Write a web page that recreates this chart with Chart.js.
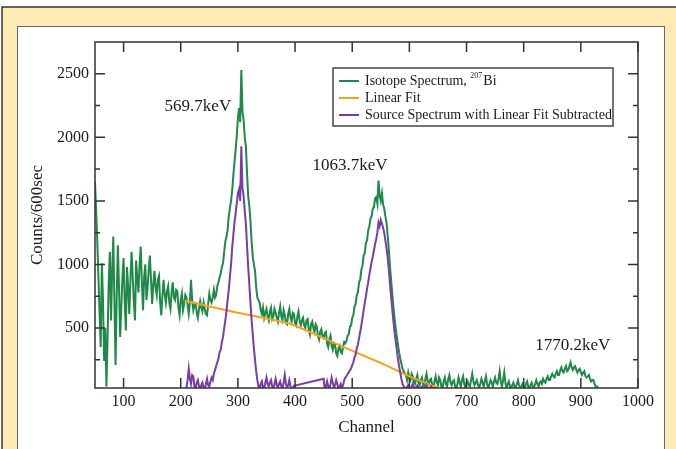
<!DOCTYPE html>
<html>
<head>
<meta charset="utf-8">
<script src="https://cdn.jsdelivr.net/npm/chart.js@4.4.1/dist/chart.umd.min.js"></script>
<style>
  html, body { margin: 0; padding: 0; background: #fff; }
  canvas { display: block; }
</style>
</head>
<body>
<canvas id="spectrumChart" width="676" height="449"></canvas>
<script>
// counts per 600 s, one value every 2 channels starting at channel 50
const isotopeStart = 50
const isotopeStep = 2
const isotopeCounts = [
    1650, 1420, 1180, 900, 620, 350, 1010, 720, 240, 500, 40, 420, 860, 1100, 560, 940, 1220, 700, 210, 760,       // 50-88
    1150, 820, 430, 660, 900, 1050, 700, 480, 980, 820, 610, 880, 1100, 900, 700, 560, 1030, 890, 780, 1000,     // 90-128
    1140, 860, 640, 900, 1000, 720, 820, 960, 1070, 880, 690, 840, 950, 820, 760, 880, 910, 700, 600, 760,       // 130-168
    880, 760, 700, 790, 830, 700, 650, 780, 860, 740, 720, 800, 790, 660, 600, 720, 770, 640, 690, 760,          // 170-208
    740, 680, 610, 700, 880, 720, 640, 680, 690, 620, 580, 650, 710, 660, 630, 700, 650, 610, 600, 690,          // 210-248
    770, 720, 700, 740, 800, 740, 760, 830, 860, 900, 930, 980, 1010, 1100, 1180, 1220, 1270, 1380, 1440, 1500,  // 250-288
    1580, 1700, 1800, 1900, 2010, 2150, 2230, 2120, 2530, 2200, 2140, 2000, 1930, 1720, 1540, 1460, 1340, 1180, 1060, 1000, // 290-328
    950, 820, 740, 720, 700, 640, 610, 660, 580, 620, 650, 590, 560, 630, 660, 570, 590, 650, 620, 580,          // 330-368
    550, 620, 670, 590, 560, 640, 600, 540, 530, 610, 650, 580, 550, 620, 610, 540, 520, 590, 630, 560,          // 370-408
    520, 560, 580, 520, 500, 560, 570, 490, 450, 530, 550, 500, 470, 530, 510, 440, 410, 470, 490, 430,          // 410-448
    420, 460, 470, 380, 350, 410, 440, 360, 330, 380, 370, 300, 280, 340, 360, 310, 300, 350, 390, 380,          // 450-488
    400, 440, 450, 510, 520, 580, 600, 670, 690, 760, 780, 860, 880, 960, 990, 1070, 1090, 1170, 1190, 1270,     // 490-528
    1300, 1360, 1380, 1440, 1450, 1520, 1530, 1480, 1660, 1540, 1500, 1560, 1470, 1440, 1380, 1330, 1230, 1120, 990, 880, // 530-568
    770, 670, 580, 500, 430, 370, 310, 260, 220, 180, 160, 140, 130, 90, 150, 110, 90, 140, 120, 70,             // 570-608
    60, 100, 130, 70, 50, 90, 110, 60, 40, 100, 140, 80, 60, 90, 100, 50, 30, 80, 120, 70,                       // 610-648
    50, 110, 90, 40, 30, 80, 110, 60, 40, 100, 130, 70, 50, 80, 90, 40, 20, 60, 110, 70,                         // 650-688
    40, 90, 120, 60, 30, 70, 80, 50, 40, 90, 140, 80, 50, 70, 90, 50, 30, 60, 100, 70,                           // 690-728
    40, 80, 120, 60, 30, 60, 90, 70, 40, 80, 110, 70, 60, 100, 160, 80, 40, 90, 150, 70,                         // 730-768
    30, 60, 80, 40, 20, 50, 70, 40, 30, 60, 90, 50, 20, 40, 60, 40, 30, 60, 80, 40,                              // 770-808
    20, 50, 70, 40, 30, 60, 90, 60, 40, 70, 80, 60, 100, 80, 70, 100, 120, 90, 90, 120,                          // 810-848
    140, 120, 110, 140, 160, 130, 130, 170, 190, 160, 150, 180, 200, 160, 170, 200, 230, 190, 170, 190,          // 850-888
    200, 170, 150, 170, 180, 150, 130, 150, 160, 120, 110, 120, 130, 100, 80, 90, 90, 60, 40, 40,                // 890-928
    30                                                                                                           // 930
]

// linear background fit
const fitChannels = [207, 260, 300, 340, 390, 410, 450, 490, 550, 600, 650]
const fitCounts = [715, 660, 620, 585, 535, 500, 420, 340, 225, 120, 28]

// spectrum with fit subtracted, every 2 channels, two runs (gap between 398 and 450)
const subStep = 2
const subStartA = 210
const subCountsA = [
    30, 90, 180, 100, 60, 130, 120, 40, 20, 70, 90, 40, 15, 50, 70, 30, 15, 60, 100, 50,
    40, 80, 110, 90, 140, 170, 200, 230, 260, 310, 330, 390, 430, 500, 560, 630, 720, 800, 900, 1000,
    1130, 1230, 1330, 1400, 1480, 1560, 1590, 1500, 1930, 1600, 1540, 1420, 1320, 1150, 980, 840, 700, 560, 450, 340,
    250, 160, 90, 40, 20, 60, 80, 30, 20, 70, 110, 60, 40, 70, 90, 40, 15, 60, 100, 50,
    30, 60, 80, 40, 20, 70, 130, 60, 30, 50, 90, 40, 20, 30, 45
]
const subStartB = 450
const subCountsB = [
    100, 15, 40, 80, 40, 20, 60, 110, 70, 30, 50, 90, 60, 20, 40, 60, 30, 50, 90, 110,
    120, 140, 150, 170, 180, 210, 230, 270, 290, 340, 370, 420, 470, 520, 580, 640, 700, 750, 810, 860,
    920, 970, 1020, 1060, 1110, 1160, 1200, 1250, 1330, 1300, 1350, 1320, 1290, 1250, 1190, 1130, 1060, 960, 850, 750,
    650, 560, 470, 400, 330, 260, 200, 150, 100, 60, 40, 30, 20, 40, 50, 30, 15, 40, 60, 30,
    20, 40, 50, 30, 15, 30, 40, 20, 10, 30, 50, 30, 20, 30, 40, 20, 10, 20, 30, 20, 15
]

const xTicks = [100, 200, 300, 400, 500, 600, 700, 800, 900, 1000]
const yTicks = [500, 1000, 1500, 2000, 2500]
const yMinorTicks = [250, 750, 1250, 1750, 2250]

const peakLabels = [
    { text: '569.7keV', ch: 230, counts: 2240 },
    { text: '1063.7keV', ch: 496, counts: 1775 },
    { text: '1770.2keV', ch: 886, counts: 366 }
]

const GREEN = '#1f8a48'
const ORANGE = '#f6a21c'
const PURPLE = '#7a3ca6'
const SERIF = '"Liberation Serif", "Times New Roman", serif'

const isotopeData = isotopeCounts.map((v, i) => ({ x: isotopeStart + i * isotopeStep, y: v }))
const fitData = fitChannels.map((c, i) => ({ x: c, y: fitCounts[i] }))
const subData = subCountsA.map((v, i) => ({ x: subStartA + i * subStep, y: v }))
    .concat(subCountsB.map((v, i) => ({ x: subStartB + i * subStep, y: v })))

const framePlugin = {
    id: 'framePlugin',
    beforeDraw(chart) {
        const c = chart.ctx
        c.save()
        c.fillStyle = '#fff'
        c.fillRect(0, 0, 676, 449)
        c.fillStyle = '#fdebb3'
        c.fillRect(2, 7, 700, 460)
        c.strokeStyle = '#333'
        c.lineWidth = 1.5
        c.strokeRect(2, 7, 700, 460)
        c.fillStyle = '#fff'
        c.fillRect(17, 26, 648, 440)
        c.strokeStyle = '#666'
        c.lineWidth = 1
        c.strokeRect(17.5, 26.5, 647, 440)
        c.restore()
    },
    afterDatasetsDraw(chart) {
        const { ctx: c, chartArea: a, scales: { x, y } } = chart
        c.save()
        c.strokeStyle = '#333'
        c.lineWidth = 1.5
        c.strokeRect(a.left, a.top, a.right - a.left, a.bottom - a.top)
        c.beginPath()
        xTicks.forEach(v => {
            const px = x.getPixelForValue(v)
            c.moveTo(px, a.bottom); c.lineTo(px, a.bottom - 10)
            c.moveTo(px, a.top); c.lineTo(px, a.top + 10)
        })
        yTicks.forEach(v => {
            const py = y.getPixelForValue(v)
            c.moveTo(a.left, py); c.lineTo(a.left + 10, py)
            c.moveTo(a.right, py); c.lineTo(a.right - 10, py)
        })
        yMinorTicks.forEach(v => {
            const py = y.getPixelForValue(v)
            c.moveTo(a.left, py); c.lineTo(a.left + 5, py)
            c.moveTo(a.right, py); c.lineTo(a.right - 5, py)
        })
        c.stroke()

        // peak labels
        c.fillStyle = '#1a1a1a'
        c.font = '17px ' + SERIF
        c.textAlign = 'center'
        c.textBaseline = 'middle'
        peakLabels.forEach(p => {
            c.fillText(p.text, x.getPixelForValue(p.ch), y.getPixelForValue(p.counts))
        })

        // legend box
        const bx = 333, by = 68, bw = 280, bh = 58
        c.fillStyle = '#fff'
        c.fillRect(bx, by, bw, bh)
        c.strokeStyle = '#444'
        c.lineWidth = 1.5
        c.strokeRect(bx, by, bw, bh)
        const rowsY = [81, 98, 115]
        c.textAlign = 'left'
        chart.data.datasets.forEach((ds, i) => {
            const ry = rowsY[i]
            c.strokeStyle = ds.borderColor
            c.lineWidth = 2
            c.beginPath()
            c.moveTo(339, ry); c.lineTo(359, ry)
            c.stroke()
            c.fillStyle = '#1a1a1a'
            c.font = '14px ' + SERIF
            if (i === 0) {
                const head = 'Isotope Spectrum, '
                c.fillText(head, 365, ry)
                let tx = 365 + c.measureText(head).width
                c.font = '8px ' + SERIF
                c.fillText('207', tx, ry - 5)
                tx += c.measureText('207').width + 1
                c.font = '14px ' + SERIF
                c.fillText('Bi', tx, ry)
            } else {
                c.fillText(ds.label, 365, ry)
            }
        })
        c.restore()
    }
}

const ctx = document.getElementById('spectrumChart').getContext('2d')

const config = {
    type: 'line',
    data: {
        datasets: [
            {
                label: 'Isotope Spectrum, 207Bi',
                data: isotopeData,
                borderColor: GREEN,
                borderWidth: 2,
                pointRadius: 0,
                order: 3
            },
            {
                label: 'Linear Fit',
                data: fitData,
                borderColor: ORANGE,
                borderWidth: 2,
                pointRadius: 0,
                order: 2
            },
            {
                label: 'Source Spectrum with Linear Fit Subtracted',
                data: subData,
                borderColor: PURPLE,
                borderWidth: 2,
                pointRadius: 0,
                order: 1
            }
        ]
    },
    options: {
        responsive: false,
        animation: false,
        layout: { padding: { left: 0, top: 42, right: 38, bottom: 0 } },
        scales: {
            x: {
                type: 'linear',
                min: 50,
                max: 1000,
                afterFit: s => { s.height = 61 },
                afterBuildTicks: s => { s.ticks = xTicks.map(v => ({ value: v })) },
                grid: { display: false, drawTicks: false },
                border: { display: false },
                ticks: {
                    padding: 4,
                    maxRotation: 0,
                    autoSkip: false,
                    color: '#1a1a1a',
                    font: { family: SERIF, size: 16 },
                    callback: v => String(v)
                },
                title: {
                    display: true,
                    text: 'Channel',
                    color: '#1a1a1a',
                    font: { family: SERIF, size: 17 },
                    padding: { top: 0, bottom: 11 }
                }
            },
            y: {
                min: 28,
                max: 2750,
                afterFit: s => { s.width = 95 },
                afterBuildTicks: s => { s.ticks = yTicks.map(v => ({ value: v })) },
                grid: { display: false, drawTicks: false },
                border: { display: false },
                ticks: {
                    padding: 6,
                    autoSkip: false,
                    color: '#1a1a1a',
                    font: { family: SERIF, size: 16 },
                    callback: v => String(v)
                },
                title: {
                    display: true,
                    text: 'Counts/600sec',
                    color: '#1a1a1a',
                    font: { family: SERIF, size: 17 },
                    padding: { top: 27, bottom: 0 }
                }
            }
        },
        plugins: {
            legend: { display: false },
            tooltip: { enabled: false }
        }
    },
    plugins: [framePlugin]
}

const spectrumChart = new Chart(ctx, config)
</script>
</body>
</html>
